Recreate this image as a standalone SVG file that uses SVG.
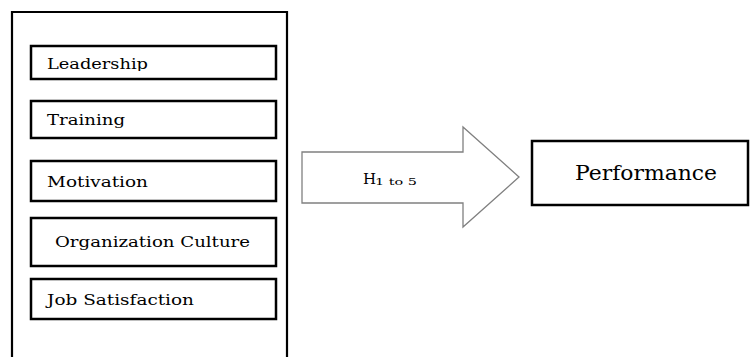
<svg xmlns="http://www.w3.org/2000/svg" width="751" height="357" viewBox="0 0 751 357">
<style>
.box{fill:#fff;stroke:#000;stroke-width:2.5}
text{font-family:"DejaVu Serif","Liberation Serif",serif;fill:#000}
</style>
<defs>
<clipPath id="clipL"><rect x="30" y="40" width="250" height="31"/></clipPath>
</defs>
<rect width="751" height="357" fill="#fff"/>
<g id="outer">
<path d="M12,360 L12,12 L287,12 L287,360" fill="none" stroke="#000" stroke-width="2.2"/>
</g>
<g id="leadership">
<rect class="box" x="31" y="46" width="245" height="33"/>
<text x="47" y="69" font-size="15.5" textLength="101" lengthAdjust="spacingAndGlyphs" clip-path="url(#clipL)">Leadership</text>
</g>
<g id="training">
<rect class="box" x="31" y="101" width="245" height="37"/>
<text x="47" y="125" font-size="15.5" textLength="78" lengthAdjust="spacingAndGlyphs">Training</text>
</g>
<g id="motivation">
<rect class="box" x="31" y="161" width="245" height="40"/>
<text x="47" y="187" font-size="15.5" textLength="101" lengthAdjust="spacingAndGlyphs">Motivation</text>
</g>
<g id="culture">
<rect class="box" x="31" y="218" width="245" height="48"/>
<text x="55" y="247" font-size="15.5" textLength="195" lengthAdjust="spacingAndGlyphs">Organization Culture</text>
</g>
<g id="satisfaction">
<rect class="box" x="31" y="279" width="245" height="40"/>
<text x="47" y="305" font-size="15.5" textLength="147" lengthAdjust="spacingAndGlyphs">Job Satisfaction</text>
</g>
<g id="connectors">
<g id="arrow">
<polygon points="302,152 463,152 463,127 519,177 463,227 463,203 302,203" fill="#fff" stroke="#808080" stroke-width="1.3"/>
<text x="363" y="184" font-size="15">H</text>
<text x="375" y="185" font-size="9" textLength="42" lengthAdjust="spacingAndGlyphs">1 to 5</text>
</g>
</g>
<g id="performance">
<rect class="box" x="532" y="141" width="216" height="64"/>
<text x="575" y="180" font-size="20" textLength="142" lengthAdjust="spacingAndGlyphs">Performance</text>
</g>
</svg>
